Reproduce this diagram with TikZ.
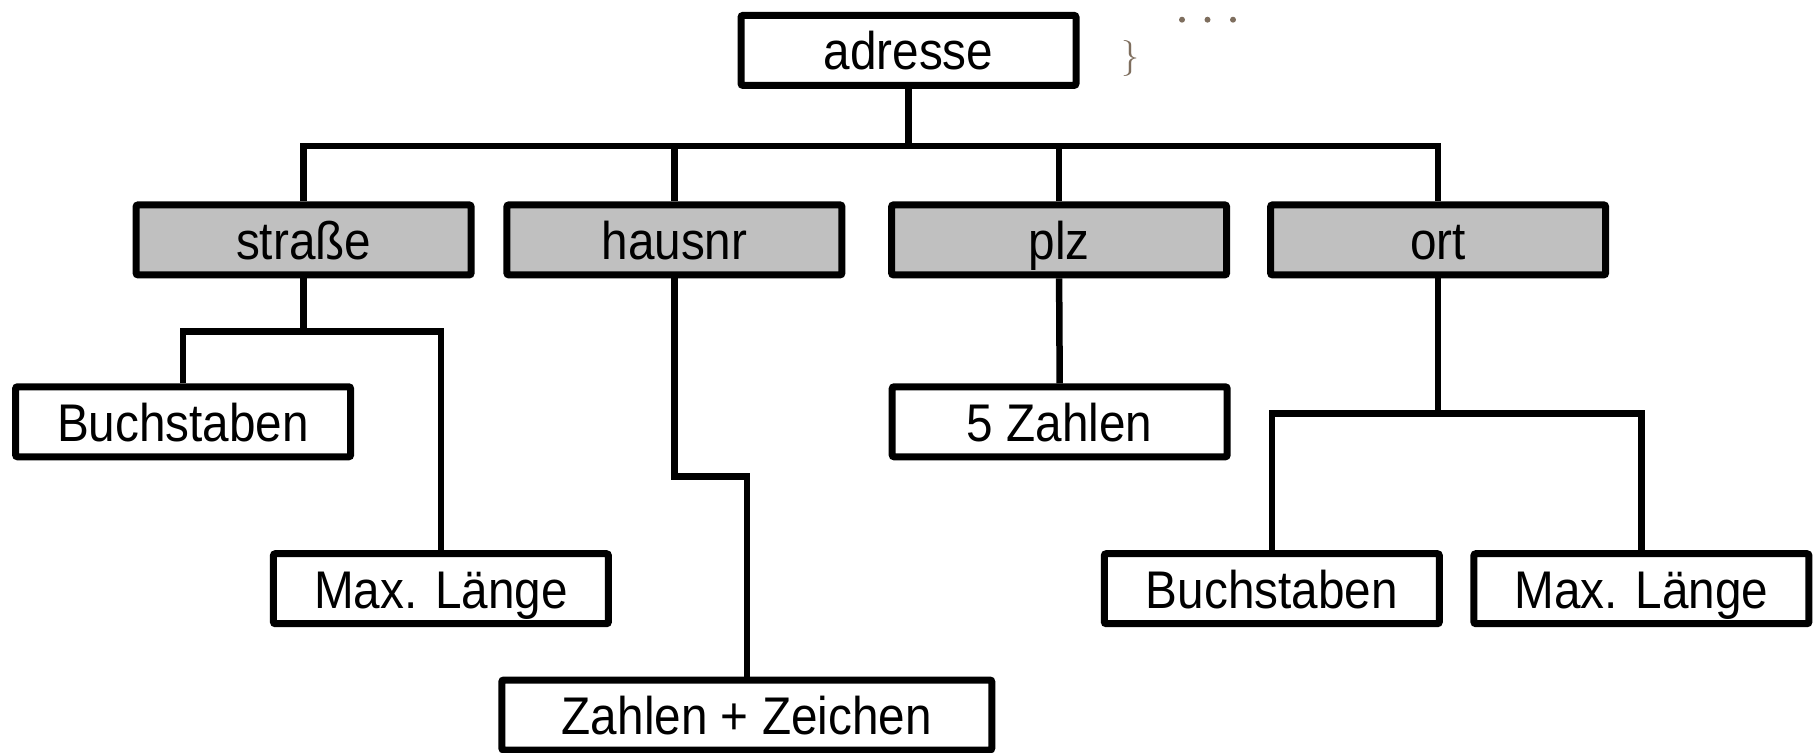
\documentclass[tikz,border=0pt]{standalone}
\usepackage{fontspec}
\setmainfont{Liberation Sans}[FakeStretch=0.9]
\newfontfamily\bracefont{Latin Modern Roman}
\definecolor{boxgray}{HTML}{C0C0C0}
\definecolor{codebrown}{HTML}{7E6E5E}
\tikzset{
  tbox/.style={draw=black, line width=7pt, rounded corners=2pt, fill=white,
    minimum width=335pt, minimum height=70pt, inner sep=0pt,
    text height=49pt, text depth=10pt,
    font=\fontsize{53}{60}\selectfont},
  gbox/.style={tbox, fill=boxgray},
  conn/.style={draw=black, line width=6.5pt}
}
\begin{document}
\begin{tikzpicture}[x=1pt, y=-1pt]
\useasboundingbox (0,0) rectangle (1817,752);
% nodes
\node[tbox] (adr) at (908.5,50.4) {adresse};
\node[gbox] (strasse) at (303.6,239.9) {straße};
\node[gbox] (hausnr) at (674.4,239.9) {hausnr};
\node[gbox] (plz) at (1059.1,239.9) {plz};
\node[gbox] (ort) at (1438.1,239.9) {ort};
\node[tbox] (buchL) at (183.1,421.8) {Buchstaben};
\node[tbox] (maxL) at (440.9,588.7) {Max. Länge};
\node[tbox, minimum width=490pt] (zz) at (746.8,715) {Zahlen + Zeichen};
\node[tbox] (fz) at (1059.7,421.8) {5 Zahlen};
\node[tbox] (buchR) at (1271.8,588.7) {Buchstaben};
\node[tbox] (maxR) at (1641.4,588.7) {Max. Länge};
% bus coordinates
\coordinate (bus) at (0,146);
\coordinate (sb) at (0,331.4);
\coordinate (hb) at (0,476.3);
\coordinate (ob) at (0,413.7);
% connectors
\draw[conn] (adr.south) -- (adr.south |- bus);
\draw[conn] (strasse.north) |- (ort.north |- bus) -- (ort.north);
\draw[conn] (hausnr.north) -- (hausnr.north |- bus);
\draw[conn] (plz.north) -- (plz.north |- bus);
\draw[conn] (strasse.south) -- (strasse.south |- sb);
\draw[conn] (buchL.north) |- (maxL.north |- sb) -- (maxL.north);
\draw[conn] (hausnr.south) |- (zz.north |- hb) -- (zz.north);
\draw[conn] (plz.south) -- (fz.north);
\draw[conn] (ort.south) -- (ort.south |- ob);
\draw[conn] (buchR.north) |- (maxR.north |- ob) -- (maxR.north);
% code fragments
\node[text=codebrown, font=\bracefont\fontsize{36}{36}\selectfont, inner sep=0pt] (brace) at (1130.5,58) {\}};
\fill[codebrown] (1182,19.7) circle (3pt) (1207.5,19.7) circle (3pt) (1233,19.7) circle (3pt);
\end{tikzpicture}
\end{document}
